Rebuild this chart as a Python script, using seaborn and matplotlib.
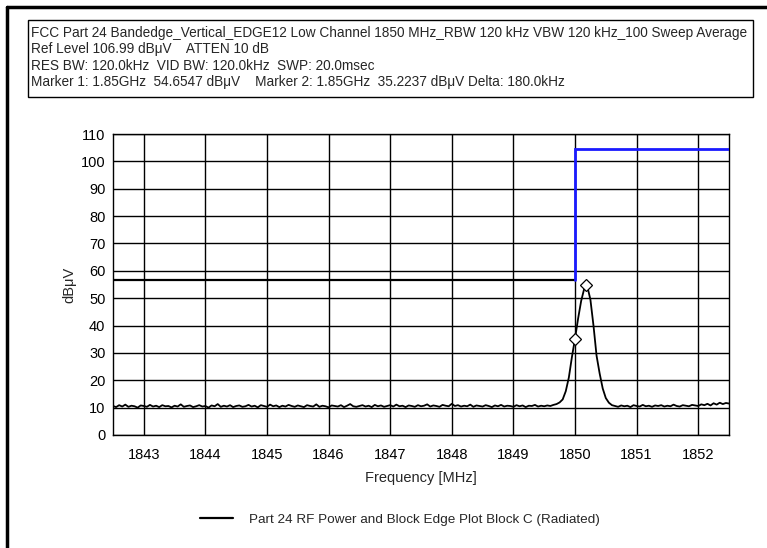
import numpy as np
import pandas as pd
import matplotlib
matplotlib.use("Agg")
import matplotlib.pyplot as plt
from matplotlib.lines import Line2D
from matplotlib.patches import Rectangle
from matplotlib.ticker import MultipleLocator
import seaborn as sns

# ---- sweep data (dBuV), 0.05 MHz steps from 1842.50 to 1852.50 MHz ----
freq_start = 1842.5
freq_step = 0.05
level_dbuv = [
    10.6, 10.2, 10.9, 10.4, 11.1, 10.3, 10.7, 10.5, 10.0, 10.8, 10.6, 10.3, 11.0, 10.4, 10.7, 10.2, 10.9, 10.5, 10.6, 10.1,
    10.7, 10.4, 11.2, 10.3, 10.6, 10.8, 10.2, 10.5, 10.9, 10.4, 10.6, 10.0, 10.8, 10.5, 11.3, 10.3, 10.7, 10.4, 10.9, 10.2,
    10.6, 10.8, 10.3, 10.5, 11.0, 10.4, 10.7, 10.1, 10.9, 10.6, 10.3, 11.1, 10.5, 10.8, 10.2, 10.7, 10.4, 11.0, 10.6, 10.3,
    10.8, 10.5, 10.2, 10.9, 10.6, 10.4, 11.2, 10.3, 10.7, 10.5, 10.1, 10.8, 10.6, 10.4, 10.9, 10.2, 10.7, 11.3, 10.5, 10.3,
    10.6, 10.9, 10.4, 10.7, 10.2, 11.0, 10.5, 10.8, 10.3, 10.6, 10.9, 10.4, 11.1, 10.5, 10.7, 10.2, 10.8, 10.6, 10.3, 10.9,
    10.5, 10.7, 11.2, 10.4, 10.8, 10.6, 10.3, 11.0, 10.7, 10.5, 11.4, 10.6, 10.9, 10.4, 10.7, 10.5, 11.1, 10.3, 10.8, 10.6,
    10.4, 10.9, 10.6, 10.2, 10.8, 10.5, 11.0, 10.4, 10.7, 10.6, 10.3, 10.9, 10.5, 10.8, 10.2, 10.7, 10.6, 11.0, 10.4, 10.7,
    10.5, 10.8, 10.6, 11.0, 11.3, 11.9, 13.0, 16.0, 21.0, 28.5, 35.2, 42.5, 49.0, 53.5, 54.3, 49.5, 40.0, 29.0, 22.5, 17.0,
    13.5, 11.8, 10.9, 10.6, 10.3, 10.8, 10.5, 10.7, 10.2, 10.9, 10.6, 10.4, 11.0, 10.5, 10.7, 10.3, 10.8, 10.6, 10.9, 10.4,
    10.7, 10.5, 11.1, 10.6, 10.4, 10.9, 10.7, 10.5, 11.0, 10.8, 10.6, 11.2, 10.9, 11.4, 10.8, 11.6, 11.1, 11.8, 11.3, 11.7,
    11.5,
]

# ---- markers ----
marker_freq = [1850.18, 1850.00]
marker_level = [54.6547, 35.2237]

# ---- limit lines ----
limit_low_freq = [1842.5, 1850.0]
limit_low_level = [56.5, 56.5]
limit_high_freq = [1850.0, 1850.0, 1852.5]
limit_high_level = [56.5, 104.5, 104.5]

# ---- text ----
header_lines = [
    "FCC Part 24 Bandedge_Vertical_EDGE12 Low Channel 1850 MHz_RBW 120 kHz VBW 120 kHz_100 Sweep Average",
    "Ref Level 106.99 dB\u03bcV    ATTEN 10 dB",
    "RES BW: 120.0kHz  VID BW: 120.0kHz  SWP: 20.0msec",
    "Marker 1: 1.85GHz  54.6547 dB\u03bcV    Marker 2: 1.85GHz  35.2237 dB\u03bcV Delta: 180.0kHz",
]
x_ticks = [1843, 1844, 1845, 1846, 1847, 1848, 1849, 1850, 1851, 1852]
y_ticks = [0, 10, 20, 30, 40, 50, 60, 70, 80, 90, 100, 110]
legend_label = "Part 24 RF Power and Block Edge Plot Block C (Radiated)"

freq = freq_start + freq_step * np.arange(len(level_dbuv))
df = pd.DataFrame({"Frequency [MHz]": freq, "dBuV": level_dbuv})

sns.set_style("white")
plt.rcParams["font.family"] = ["Liberation Sans", "DejaVu Sans"]

W, H = 767, 548
fig = plt.figure(figsize=(W / 100, H / 100), dpi=100)
fig.patch.set_facecolor("white")

# axes placement in pixels
ax_l, ax_r, ax_t, ax_b = 113, 729, 134, 435
ax = fig.add_axes([ax_l / W, 1 - ax_b / H, (ax_r - ax_l) / W, (ax_b - ax_t) / H])

# limit lines
ax.plot(limit_low_freq, limit_low_level, color="black", lw=1.6, zorder=3)
ax.plot(limit_high_freq, limit_high_level, color="#1a1aff", lw=2.0, zorder=3,
        solid_joinstyle="miter")

# measured trace
sns.lineplot(data=df, x="Frequency [MHz]", y="dBuV", ax=ax, color="black",
             lw=1.3, label=legend_label, legend=False, zorder=4)

# markers
ax.plot(marker_freq, marker_level, linestyle="none", marker="D", markersize=6,
        markerfacecolor="white", markeredgecolor="black", markeredgewidth=0.9, zorder=5)

ax.set_xlim(1842.5, 1852.5)
ax.set_ylim(0, 110)
ax.set_xticks(x_ticks)
ax.set_yticks(y_ticks)
ax.xaxis.set_minor_locator(MultipleLocator(0.5))
ax.yaxis.set_minor_locator(MultipleLocator(5))
ax.grid(True, which="major", color="black", lw=1.0)
ax.set_axisbelow(True)
for s in ax.spines.values():
    s.set_color("black")
    s.set_linewidth(1.0)
ax.tick_params(which="major", direction="inout", length=7, width=1.0,
               labelsize=10.5, colors="black", pad=2)
ax.tick_params(which="minor", direction="inout", length=6, width=1.0, colors="black")
ax.tick_params(axis="x", which="major", pad=6)
ax.set_xlabel("Frequency [MHz]", fontsize=10.5, labelpad=6)
ax.set_ylabel("dB\u03bcV", fontsize=10.5, labelpad=3)

# legend below the plot
handle = Line2D([], [], color="black", lw=1.6)
fig.legend([handle], [legend_label], loc="center", bbox_to_anchor=(400 / W, 1 - 520 / H),
           frameon=False, fontsize=9.7, handlelength=2.4, handletextpad=1.2)

# header box
box_l, box_r, box_t, box_b = 28, 753, 20, 97
fig.patches.append(Rectangle((box_l / W, 1 - box_b / H), (box_r - box_l) / W, (box_b - box_t) / H,
                             transform=fig.transFigure, facecolor="white",
                             edgecolor="black", lw=1.0))
line_y = [33, 49.5, 66, 82]
texts = []
for yy, t in zip(line_y, header_lines):
    texts.append(fig.text(31 / W, 1 - yy / H, t, fontsize=10, va="center", ha="left"))

# fit the header width to the box
fig.canvas.draw()
r = fig.canvas.get_renderer()
w0 = texts[0].get_window_extent(r).width
scale = (751 - 31) / w0
for t in texts:
    t.set_fontsize(10 * scale)

# outer frame (left and top edges)
fig.add_artist(Line2D([7 / W, 7 / W], [0, 1 - 7 / H], transform=fig.transFigure,
                      color="black", lw=2.5))
fig.add_artist(Line2D([7 / W, 1], [1 - 7 / H, 1 - 7 / H], transform=fig.transFigure,
                      color="black", lw=2.5))

fig.savefig("out.png", dpi=100, facecolor="white")
